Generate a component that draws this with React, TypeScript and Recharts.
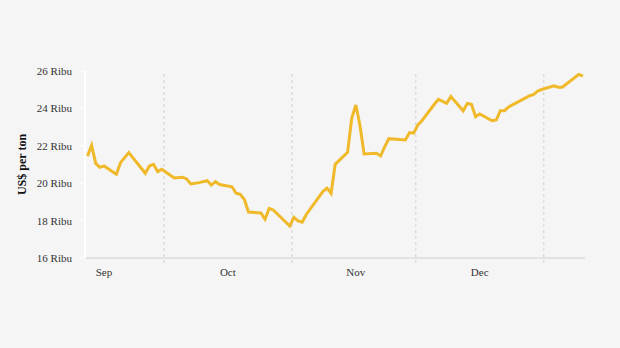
import * as React from "react";
import { LineChart, Line, XAxis, YAxis, ReferenceLine } from "recharts";

// Price series (one entry per vertex of the line)
const dates = [
  "2023-09-12", "2023-09-13", "2023-09-14", "2023-09-15", "2023-09-16", "2023-09-19",
  "2023-09-20", "2023-09-22", "2023-09-26", "2023-09-27", "2023-09-28", "2023-09-29",
  "2023-09-30", "2023-10-03", "2023-10-05", "2023-10-06", "2023-10-07", "2023-10-09",
  "2023-10-11", "2023-10-12", "2023-10-13", "2023-10-14", "2023-10-17", "2023-10-18",
  "2023-10-19", "2023-10-20", "2023-10-21", "2023-10-24", "2023-10-25", "2023-10-26",
  "2023-10-27", "2023-10-31", "2023-11-01", "2023-11-02", "2023-11-03", "2023-11-04",
  "2023-11-08", "2023-11-09", "2023-11-10", "2023-11-11", "2023-11-14", "2023-11-15",
  "2023-11-16", "2023-11-17", "2023-11-18", "2023-11-21", "2023-11-22", "2023-11-23",
  "2023-11-24", "2023-11-28", "2023-11-29", "2023-11-30", "2023-12-01", "2023-12-02",
  "2023-12-05", "2023-12-06", "2023-12-08", "2023-12-09", "2023-12-12", "2023-12-13",
  "2023-12-14", "2023-12-15", "2023-12-16", "2023-12-19", "2023-12-20", "2023-12-21",
  "2023-12-22", "2023-12-23", "2023-12-28", "2023-12-29", "2023-12-30", "2023-12-31",
  "2024-01-03", "2024-01-04", "2024-01-05", "2024-01-09", "2024-01-10",
];

const prices = [
  21450, 22020, 21060, 20850, 20920, 20480,
  21100, 21640, 20530, 20920, 21010, 20620,
  20750, 20280, 20320, 20230, 19960, 20030,
  20130, 19900, 20080, 19930, 19810, 19460,
  19400, 19130, 18460, 18410, 18070, 18650,
  18570, 17710, 18170, 17980, 17910, 18330,
  19550, 19740, 19460, 21010, 21650, 23470,
  24180, 23090, 21560, 21600, 21460, 21960,
  22380, 22310, 22710, 22680, 23110, 23340,
  24220, 24480, 24270, 24630, 23870, 24270,
  24220, 23560, 23700, 23340, 23380, 23880,
  23880, 24080, 24670, 24740, 24920, 25010,
  25210, 25130, 25130, 25820, 25730,
];

// x axis: month names sit mid-month, dashed lines mark month starts
const monthLabels = ["Sep", "Oct", "Nov", "Dec"];
const monthLabelDates = ["2023-09-16", "2023-10-16", "2023-11-16", "2023-12-16"];
const monthStartDates = ["2023-10-01", "2023-11-01", "2023-12-01", "2024-01-01"];

const yTicks = [16000, 18000, 20000, 22000, 24000, 26000];

const START = Date.UTC(2023, 8, 1);
const dayOf = (iso: string) => (Date.parse(iso) - START) / 86400000;

const chartData = dates.map((d, i) => ({ day: dayOf(d), price: prices[i] }));
const labelDays = monthLabelDates.map(dayOf);
// drawn at the midnight boundary, half a day before the 1st's data point
const gridDays = monthStartDates.map((d) => dayOf(d) - 0.5);

const FONT = '"Liberation Serif", "Times New Roman", serif';

document.body.style.margin = "0";
document.body.style.background = "#f5f5f5";

export default function App() {
  return (
    <div style={{ width: 620, height: 348, background: "#f5f5f5", fontFamily: FONT }}>
      <LineChart
        width={620}
        height={348}
        data={chartData}
        margin={{ top: 71, right: 35, bottom: 60, left: 0 }}
      >
        <XAxis
          type="number"
          dataKey="day"
          domain={[10.4, 131.5]}
          allowDataOverflow
          ticks={labelDays}
          tickFormatter={(d: number) => monthLabels[labelDays.indexOf(d)] ?? ""}
          axisLine={{ stroke: "#e2e2e2", strokeWidth: 2 }}
          tickLine={false}
          tickSize={0}
          tickMargin={10}
          height={30}
          tick={{ fontSize: 11, fill: "#333", fontFamily: FONT }}
        />
        <YAxis
          domain={[16000, 26000]}
          ticks={yTicks}
          width={85}
          tickFormatter={(v: number) => `${v / 1000} Ribu`}
          axisLine={{ stroke: "#ffffff", strokeWidth: 2 }}
          tickLine={{ stroke: "#ffffff" }}
          tickSize={5}
          tickMargin={8}
          tick={{ fontSize: 11, fill: "#333", fontFamily: FONT }}
          label={{
            value: "US$ per ton",
            angle: -90,
            position: "insideLeft",
            offset: 22,
            style: { fontSize: 12, fontWeight: 700, fill: "#111", textAnchor: "middle", fontFamily: FONT },
          }}
        />
        {gridDays.map((d) => (
          <ReferenceLine
            key={d}
            segment={[
              { x: d, y: 15730 },
              { x: d, y: 26000 },
            ]}
            ifOverflow="visible"
            stroke="#dcdcdc"
            strokeWidth={1.5}
            strokeDasharray="3 3"
          />
        ))}
        <Line
          type="linear"
          dataKey="price"
          stroke="#f0b929"
          strokeWidth={3}
          dot={false}
          isAnimationActive={false}
        />
      </LineChart>
    </div>
  );
}
